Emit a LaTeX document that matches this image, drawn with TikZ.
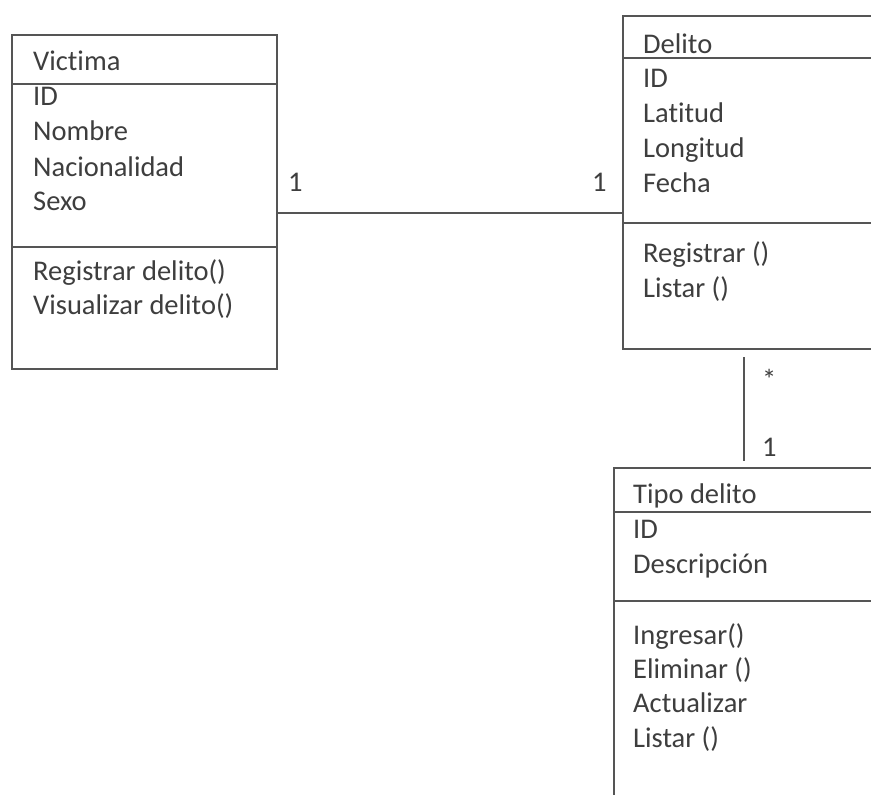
\documentclass[tikz,border=0pt]{standalone}
\usepackage{fontspec}
\setmainfont{Carlito}[Ligatures={NoCommon}]
\definecolor{linec}{RGB}{85,85,85}
\definecolor{textc}{RGB}{62,62,62}
\begin{document}
\begin{tikzpicture}[x=1pt,y=-1pt,
  box/.style={draw=linec, line width=1.6pt, rectangle, anchor=north west, inner sep=0pt},
  divider/.style={draw=linec, line width=1.4pt},
  txt/.style={anchor=base west, inner sep=0pt, text=textc, font=\fontsize{28.5}{34}\selectfont},
  conn/.style={draw=linec, line width=1.6pt}]
\useasboundingbox (0,0) rectangle (871,795);
\clip (0,0) rectangle (871,795);
\fill[white] (0,0) rectangle (871,795);

% Victima
\node[box, minimum width=265pt, minimum height=334pt] (victima) at (11,34) {};
\draw[divider] (11,84) -- (276,84);
\draw[divider] (11,247) -- (276,247);
\node[txt] (vt) at (33,70) {Victima};
\node[txt] (va1) at (33,105) {ID};
\node[txt] (va2) at (33,140) {Nombre};
\node[txt] (va3) at (33,176) {Nacionalidad};
\node[txt] (va4) at (33,210) {Sexo};
\node[txt] (vm1) at (33,280) {Registrar delito()};
\node[txt] (vm2) at (33,314) {Visualizar delito()};

% Delito
\node[box, minimum width=320pt, minimum height=333pt] (delito) at (622,15) {};
\draw[divider] (622,58) -- (950,58);
\draw[divider] (622,223) -- (950,223);
\node[txt] (dt) at (643,53) {Delito};
\node[txt] (da1) at (643,87) {ID};
\node[txt] (da2) at (643,122) {Latitud};
\node[txt] (da3) at (643,157) {Longitud};
\node[txt] (da4) at (643,192) {Fecha};
\node[txt] (dm1) at (643,262) {Registrar ()};
\node[txt] (dm2) at (643,297) {Listar ()};

% Tipo delito
\node[box, minimum width=320pt, minimum height=400pt] (tipo) at (613,467) {};
\draw[divider] (613,512) -- (950,512);
\draw[divider] (613,601) -- (950,601);
\node[txt] (tt) at (633,503) {Tipo delito};
\node[txt] (ta1) at (633,538) {ID};
\node[txt] (ta2) at (633,573) {Descripción};
\node[txt] (tm1) at (633,644) {Ingresar()};
\node[txt] (tm2) at (633,678) {Eliminar ()};
\node[txt] (tm3) at (633,712) {Actualizar};
\node[txt] (tm4) at (633,747) {Listar ()};

% connectors
\coordinate (row) at (0,213);
\draw[conn] (victima.east |- row) -- (delito.west |- row);
\node[txt] (m1) at (288,191) {1};
\node[txt] (m2) at (592,191) {1};

\coordinate (vtop) at (744,357);
\coordinate (vbot) at (744,461);
\draw[conn] (vtop) -- (vbot);
\node[txt] (m3) at (762,389) {*};
\node[txt] (m4) at (762,456) {1};
\end{tikzpicture}
\end{document}
